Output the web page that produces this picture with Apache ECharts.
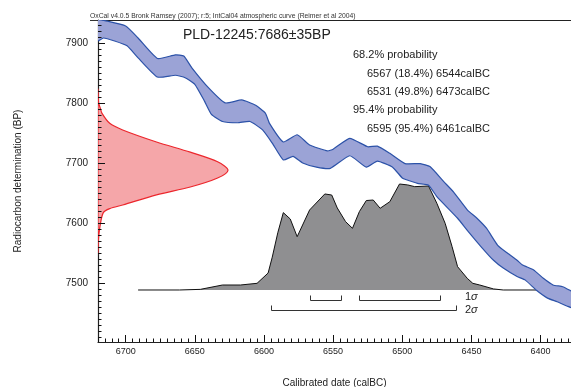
<!DOCTYPE html>
<html>
<head>
<meta charset="utf-8">
<script src="https://cdn.jsdelivr.net/npm/echarts@6/dist/echarts.min.js"></script>
<style>
  html, body { margin: 0; padding: 0; background: #fff; }
  #main { width: 571px; height: 387px; }
</style>
</head>
<body>
<div id="main"></div>
<script>
// axis ranges and ticks (calBC along x, BP along y)
var xRange = [6378, 6720];
var yRange = [7402, 7938];
var xMajorStep = 50, xMinorStep = 5;
var yTicks = [7500, 7600, 7700, 7800, 7900];
var yMinorStep = 10;

// calibration curve band edges, [calBC, BP]
var curveUpper = [
  [6725, 7942], [6720, 7939], [6715, 7937], [6700, 7928], [6691, 7908], [6677, 7874],
  [6664, 7880], [6658, 7878], [6652, 7858], [6640, 7825], [6628, 7800], [6616, 7805],
  [6606, 7796], [6599, 7783], [6596, 7766], [6586, 7735], [6576, 7747], [6567, 7730],
  [6554, 7720], [6550, 7723], [6538, 7741], [6525, 7727], [6518, 7728], [6509, 7716],
  [6498, 7699], [6487, 7699], [6480, 7694], [6470, 7669], [6463, 7652], [6453, 7622],
  [6446, 7608], [6439, 7591], [6431, 7563], [6424, 7550], [6417, 7538], [6413, 7530],
  [6405, 7522], [6398, 7508], [6391, 7497], [6384, 7494], [6378, 7487], [6374, 7482]
];
var curveLower = [
  [6725, 7900], [6720, 7903], [6716, 7908], [6708, 7903], [6699, 7895], [6691, 7875],
  [6677, 7843], [6664, 7846], [6657, 7842], [6650, 7831], [6643, 7803], [6638, 7781],
  [6630, 7769], [6619, 7767], [6610, 7769], [6601, 7755], [6594, 7733], [6586, 7705],
  [6579, 7711], [6572, 7700], [6562, 7693], [6552, 7691], [6538, 7712], [6526, 7693],
  [6518, 7703], [6507, 7693], [6500, 7675], [6497, 7672], [6489, 7666], [6481, 7663],
  [6475, 7644], [6460, 7608], [6453, 7588], [6442, 7558], [6434, 7538], [6427, 7525],
  [6417, 7511], [6411, 7505], [6403, 7488], [6395, 7475], [6388, 7469], [6381, 7462],
  [6374, 7457]
];

// radiocarbon measurement, [relative probability, BP]
var dateDist = [
  [0, 7822], [0.005, 7800], [0.02, 7790], [0.03, 7783], [0.09, 7766], [0.19, 7755],
  [0.45, 7735], [0.71, 7718], [0.92, 7702], [1.0, 7688], [0.92, 7675], [0.71, 7660],
  [0.45, 7647], [0.19, 7630], [0.09, 7624], [0.04, 7617], [0.015, 7594], [0.003, 7572],
  [0, 7550]
];

// calibrated distribution, [calBC, relative probability]
var calDist = [
  [6691, 0], [6661, 0], [6646, 0.006], [6630, 0.047], [6617, 0.047], [6605, 0.063],
  [6597, 0.16], [6594, 0.31], [6590, 0.54], [6586, 0.73], [6581, 0.67], [6576, 0.503],
  [6567, 0.755], [6556, 0.906], [6551, 0.896], [6547, 0.774], [6541, 0.645], [6536, 0.582],
  [6531, 0.74], [6526, 0.844], [6521, 0.849], [6516, 0.771], [6509, 0.833], [6502, 1.0],
  [6496, 0.991], [6491, 0.975], [6481, 0.981], [6475, 0.818], [6469, 0.629], [6464, 0.41],
  [6460, 0.22], [6453, 0.11], [6449, 0.063], [6444, 0.047], [6434, 0.01], [6427, 0],
  [6402, 0]
];

// ranges, [from, to] calBC
var sigma1Ranges = [[6567, 6544], [6531, 6473]];
var sigma2Ranges = [[6595, 6461]];

var resultTitle = 'PLD-12245:7686\u00b135BP';
var resultLines = [
  '68.2% probability',
  '  6567 (18.4%) 6544calBC',
  '  6531 (49.8%) 6473calBC',
  '95.4% probability',
  '  6595 (95.4%) 6461calBC'
];

var FONT = '"Liberation Sans", Arial, sans-serif';
var INK = '#222';

// one category per year, so x ticks can sit on round values
var xYears = [];
for (var v = xRange[1]; v >= xRange[0]; v--) xYears.push(String(v));
var yMinor = [];
for (var m = Math.ceil(yRange[0] / yMinorStep) * yMinorStep; m <= yRange[1]; m += yMinorStep) yMinor.push([0, m]);

function every(step) {
  return function (index, value) { return Number(value) % step === 0; };
}

function clipOf(params) {
  var c = params.coordSys;
  return { type: 'rect', shape: { x: c.x, y: c.y, width: c.width, height: c.height } };
}

function bandItem(params, api) {
  if (params.dataIndex > 0) return;
  var top = curveUpper.map(function (d) { return api.coord(d); });
  var bottom = curveLower.slice().reverse().map(function (d) { return api.coord(d); });
  return {
    type: 'polygon',
    shape: { points: top.concat(bottom), smooth: 0.15 },
    style: { fill: '#9ba3d6', stroke: '#2c52a8', lineWidth: 1.2 },
    clipPath: clipOf(params)
  };
}

function dateItem(params, api) {
  if (params.dataIndex > 0) return;
  var pts = dateDist.map(function (d) { return api.coord(d); });
  return {
    type: 'polygon',
    shape: { points: pts, smooth: 0.3 },
    style: { fill: '#f5a6a9', stroke: '#ec262c', lineWidth: 1.2 },
    clipPath: clipOf(params)
  };
}

function bracketSeries(ranges, drop) {
  return {
    type: 'custom',
    xAxisIndex: 0,
    yAxisIndex: 2,
    silent: true,
    data: ranges,
    renderItem: function (params, api) {
      var a = api.coord([api.value(0), 0]);
      var b = api.coord([api.value(1), 0]);
      var y = Math.round(a[1]) + drop + 0.5;
      var x0 = Math.round(a[0]) + 0.5, x1 = Math.round(b[0]) + 0.5;
      return {
        type: 'polyline',
        shape: { points: [[x0, y - 5], [x0, y], [x1, y], [x1, y - 5]] },
        style: { stroke: '#333', lineWidth: 1, fill: null }
      };
    }
  };
}

// ticks on the BP axis, drawn inward from the left frame line
function yTickSeries(data, len) {
  return {
    type: 'custom',
    xAxisIndex: 3,
    yAxisIndex: 0,
    silent: true,
    z: 6,
    data: data,
    renderItem: function (params, api) {
      var p = api.coord([0, api.value(1)]);
      var y = Math.round(p[1]) + 0.5;
      return {
        type: 'line',
        shape: { x1: p[0], y1: y, x2: p[0] + len, y2: y },
        style: { stroke: '#111', lineWidth: 1 }
      };
    }
  };
}

var sigmaRich = { i: { fontStyle: 'italic', fontSize: 11, fontFamily: FONT, fill: INK } };
var graphics = [
  { type: 'text', x: 90, y: 16, style: { text: 'OxCal v4.0.5 Bronk Ramsey (2007); r:5; IntCal04 atmospheric curve (Reimer et al 2004)', fontSize: 6.8, fontFamily: FONT, fill: '#333', verticalAlign: 'middle' } },
  { type: 'line', shape: { x1: 90, y1: 20.5, x2: 98, y2: 20.5 }, style: { stroke: '#333', lineWidth: 1 } },
  { type: 'text', x: 183, y: 35, style: { text: resultTitle, fontSize: 14, fontFamily: FONT, fill: INK, verticalAlign: 'middle' } },
  { type: 'text', x: 465, y: 297, style: { text: '1{i|\u03c3}', fontSize: 11, fontFamily: FONT, fill: INK, verticalAlign: 'middle', rich: sigmaRich } },
  { type: 'text', x: 465, y: 310, style: { text: '2{i|\u03c3}', fontSize: 11, fontFamily: FONT, fill: INK, verticalAlign: 'middle', rich: sigmaRich } }
];
var lineY = [55, 73.5, 92, 110, 128.5];
resultLines.forEach(function (t, i) {
  var indent = t.indexOf('  ') === 0;
  graphics.push({
    type: 'text', x: indent ? 367 : 353, y: lineY[i],
    style: { text: t.trim(), fontSize: 11, fontFamily: FONT, fill: INK, verticalAlign: 'middle' }
  });
});

var chart = echarts.init(document.getElementById('main'), null, { renderer: 'canvas' });

var hidden = { show: false, axisLine: { onZero: false }, splitLine: { show: false } };
var tickStyle = { color: '#111', width: 1 };

chart.setOption({
  animation: false,
  backgroundColor: '#fff',
  grid: { left: 98, right: 0, top: 20, bottom: 45, outerBoundsMode: 'none' },
  xAxis: [
    // data axis for calBC
    Object.assign({ type: 'value', inverse: true, min: xRange[0], max: xRange[1] }, hidden),
    // visible axis, major ticks and labels
    {
      type: 'category', data: xYears, boundaryGap: false, position: 'bottom',
      name: 'Calibrated date (calBC)', nameLocation: 'middle', nameGap: 36,
      nameTextStyle: { fontSize: 10, fontFamily: FONT, color: INK },
      axisLine: { show: true, onZero: false, lineStyle: { color: '#222', width: 1.2 } },
      axisTick: { show: true, inside: true, length: 7, interval: every(xMajorStep), lineStyle: tickStyle },
      axisLabel: { show: true, interval: every(xMajorStep), fontSize: 9, fontFamily: FONT, color: INK, margin: 5 },
      splitLine: { show: false }
    },
    // minor ticks
    {
      type: 'category', data: xYears, boundaryGap: false, position: 'bottom',
      axisLine: { show: false, onZero: false },
      axisTick: { show: true, inside: true, length: 3.5, interval: every(xMinorStep), lineStyle: tickStyle },
      axisLabel: { show: false }, splitLine: { show: false }
    },
    // probability axis for the measured date, drawn as the top frame line
    {
      type: 'value', position: 'top', min: 0, max: 3.6385,
      axisLine: { show: true, onZero: false, lineStyle: { color: '#222', width: 1.2 } },
      axisTick: { show: false }, axisLabel: { show: false }, splitLine: { show: false }
    }
  ],
  yAxis: [
    {
      type: 'value', min: yRange[0], max: yRange[1], position: 'left',
      name: 'Radiocarbon determination (BP)', nameLocation: 'middle', nameGap: 75,
      nameTextStyle: { fontSize: 10, fontFamily: FONT, color: INK },
      axisLine: { show: true, onZero: false, lineStyle: { color: '#222', width: 1.2 } },
      axisTick: { show: false },
      axisLabel: { show: true, customValues: yTicks, formatter: function (val) { return String(val); }, fontSize: 10, fontFamily: FONT, color: INK, margin: 10 },
      splitLine: { show: false }
    },
    Object.assign({ type: 'value', min: yRange[0], max: yRange[1] }, hidden),
    // probability axis for the calibrated distribution
    Object.assign({ type: 'value', position: 'right', min: -0.4906, max: 2.5472 }, hidden)
  ],
  graphic: graphics,
  series: [
    {
      type: 'line',
      xAxisIndex: 0,
      yAxisIndex: 2,
      data: calDist,
      symbol: 'none',
      silent: true,
      lineStyle: { color: '#111', width: 1 },
      areaStyle: { color: '#8f8f91', opacity: 1 },
      z: 2
    },
    {
      type: 'custom',
      xAxisIndex: 0,
      yAxisIndex: 0,
      silent: true,
      data: [[6500, 7700]],
      renderItem: bandItem,
      z: 3
    },
    {
      type: 'custom',
      xAxisIndex: 3,
      yAxisIndex: 0,
      silent: true,
      data: [[0.5, 7700]],
      renderItem: dateItem,
      z: 3
    },
    bracketSeries(sigma1Ranges, 10),
    bracketSeries(sigma2Ranges, 20),
    yTickSeries(yMinor, 3.5),
    yTickSeries(yTicks.map(function (t) { return [0, t]; }), 7)
  ]
});
</script>
</body>
</html>
